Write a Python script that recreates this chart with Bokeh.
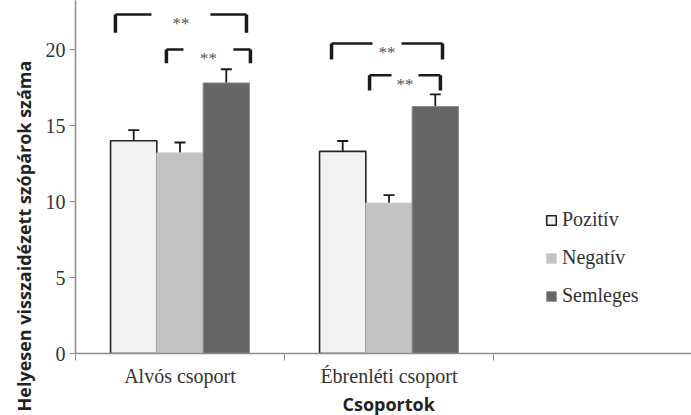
from bokeh.plotting import figure
from bokeh.models import (ColumnDataSource, Whisker, FixedTicker, Legend, LegendItem,
                          Range1d, TeeHead, Title)
from bokeh.core.properties import value
from bokeh.embed import file_html
from bokeh.resources import INLINE

# ---- data ----
groups = ["Alvós csoport", "Ébrenléti csoport"]
series = ["Pozitív", "Negatív", "Semleges"]
means = {
    "Pozitív":  [14.0, 13.3],
    "Negatív":  [13.2, 9.9],
    "Semleges": [17.8, 16.25],
}
errors = {
    "Pozitív":  [0.70, 0.68],
    "Negatív":  [0.68, 0.52],
    "Semleges": [0.90, 0.80],
}
y_ticks = [0, 5, 10, 15, 20]
# significance brackets: (left x, right x, top y, leg bottom y, gap width) in data units
br_x0 = [0.191, 0.435, 1.225, 1.407]
br_x1 = [0.818, 0.837, 1.756, 1.746]
br_top = [22.3, 20.0, 20.4, 18.3]
br_bot = [21.1, 19.1, 19.35, 17.3]
br_gap = [0.282, 0.239, 0.139, 0.129]
br_text = ["**", "**", "**", "**"]
y_title = "Helyesen visszaidézett szópárok száma"
x_title = "Csoportok"

fills = {"Pozitív": "#f2f2f2", "Negatív": "#c3c3c3", "Semleges": "#666666"}
lines = {"Pozitív": "#222222", "Negatív": "#cfcfcf", "Semleges": "#8a8a8a"}
lwidth = {"Pozitív": 1.6, "Negatív": 1.0, "Semleges": 1.0}

W, H = 691, 415
FL, FB = 75, 62          # left / bottom borders
FW, FH = W - FL, H - FB  # frame size
cat_px = 209.0
y_px = 15.2
p = figure(width=W, height=H, output_backend="svg", toolbar_location=None,
           x_range=Range1d(0, FW / cat_px), y_range=Range1d(0, FH / y_px),
           min_border_left=FL, min_border_right=0, min_border_top=0, min_border_bottom=FB)
p.outline_line_color = None
p.grid.visible = False
p.background_fill_color = "white"

bw = 0.2215
offsets = [-bw, 0.0, bw]
centers = [0.5 + i for i in range(len(groups))]

renderers = {}
for s, off in zip(series, offsets):
    xs = [c + off for c in centers]
    src = ColumnDataSource(dict(x=xs, top=means[s],
                                upper=[m + e for m, e in zip(means[s], errors[s])],
                                lower=[m - e for m, e in zip(means[s], errors[s])]))
    r = p.vbar(x="x", top="top", width=bw, source=src, fill_color=fills[s],
               line_color=lines[s], line_width=lwidth[s])
    renderers[s] = r
    wk = Whisker(base="x", upper="upper", lower="lower", source=src,
                 line_color="#1a1a1a", line_width=1.8,
                 upper_head=TeeHead(size=11, line_color="#1a1a1a", line_width=1.8),
                 lower_head=TeeHead(size=11, line_color="#1a1a1a", line_width=1.8))
    p.add_layout(wk)

# brackets
for x0, x1, yt, yb, g, t in zip(br_x0, br_x1, br_top, br_bot, br_gap, br_text):
    mid = (x0 + x1) / 2
    p.segment(x0=[x0, mid + g / 2], y0=[yt, yt], x1=[mid - g / 2, x1], y1=[yt, yt],
              line_color="#1a1a1a", line_width=2.5)
    p.segment(x0=[x0, x1], y0=[yt, yt], x1=[x0, x1], y1=[yb, yb],
              line_color="#1a1a1a", line_width=3.5)
    p.text(x=[mid], y=[yt], text=[t], text_align="center", text_baseline="alphabetic",
           y_offset=9,
           text_font=value("Liberation Serif"), text_font_size="17px", text_color="#555555")

# axes
xa = p.xaxis[0]
xa.ticker = FixedTicker(ticks=centers, minor_ticks=[0, 1, 2, 3])
xa.major_label_overrides = {c: g for c, g in zip(centers, groups)}
xa.major_tick_line_color = None
xa.major_tick_in = 0
xa.major_tick_out = 0
xa.minor_tick_in = 0
xa.minor_tick_out = 7
xa.minor_tick_line_color = "#8c8c8c"
xa.axis_line_color = "#8c8c8c"
xa.axis_line_width = 1.5
xa.major_label_text_font = "Liberation Serif"
xa.major_label_text_font_size = "20px"
xa.major_label_text_color = "#333333"
xa.major_label_standoff = 4

ya = p.yaxis[0]
ya.ticker = FixedTicker(ticks=y_ticks)
ya.minor_tick_line_color = None
ya.major_tick_in = 0
ya.major_tick_out = 6
ya.major_tick_line_color = "#8c8c8c"
ya.axis_line_color = "#8c8c8c"
ya.axis_line_width = 1.5
ya.major_label_text_font = "Liberation Serif"
ya.major_label_text_font_size = "20px"
ya.major_label_text_color = "#333333"
ya.major_label_standoff = 4

# axis titles as side titles (positioned like the original)
p.add_layout(Title(text=y_title, align="left", offset=-58, standoff=14,
                   text_font="Open Sans", text_font_style="bold",
                   text_font_size="18px", text_color="#222222"), "left")
p.add_layout(Title(text=x_title, align="left", offset=267, standoff=0,
                   text_font="Open Sans", text_font_style="bold",
                   text_font_size="18px", text_color="#222222"), "below")

legend = Legend(items=[LegendItem(label=s, renderers=[renderers[s]]) for s in series],
                location=(470, 46), orientation="vertical",
                glyph_width=12, glyph_height=12, label_height=20, spacing=15,
                label_standoff=5, padding=0, margin=0,
                border_line_color=None, background_fill_alpha=0,
                label_text_font="Liberation Serif", label_text_font_size="20px",
                label_text_color="#333333")
p.add_layout(legend)

open("out.html", "w").write(file_html(p, INLINE))
